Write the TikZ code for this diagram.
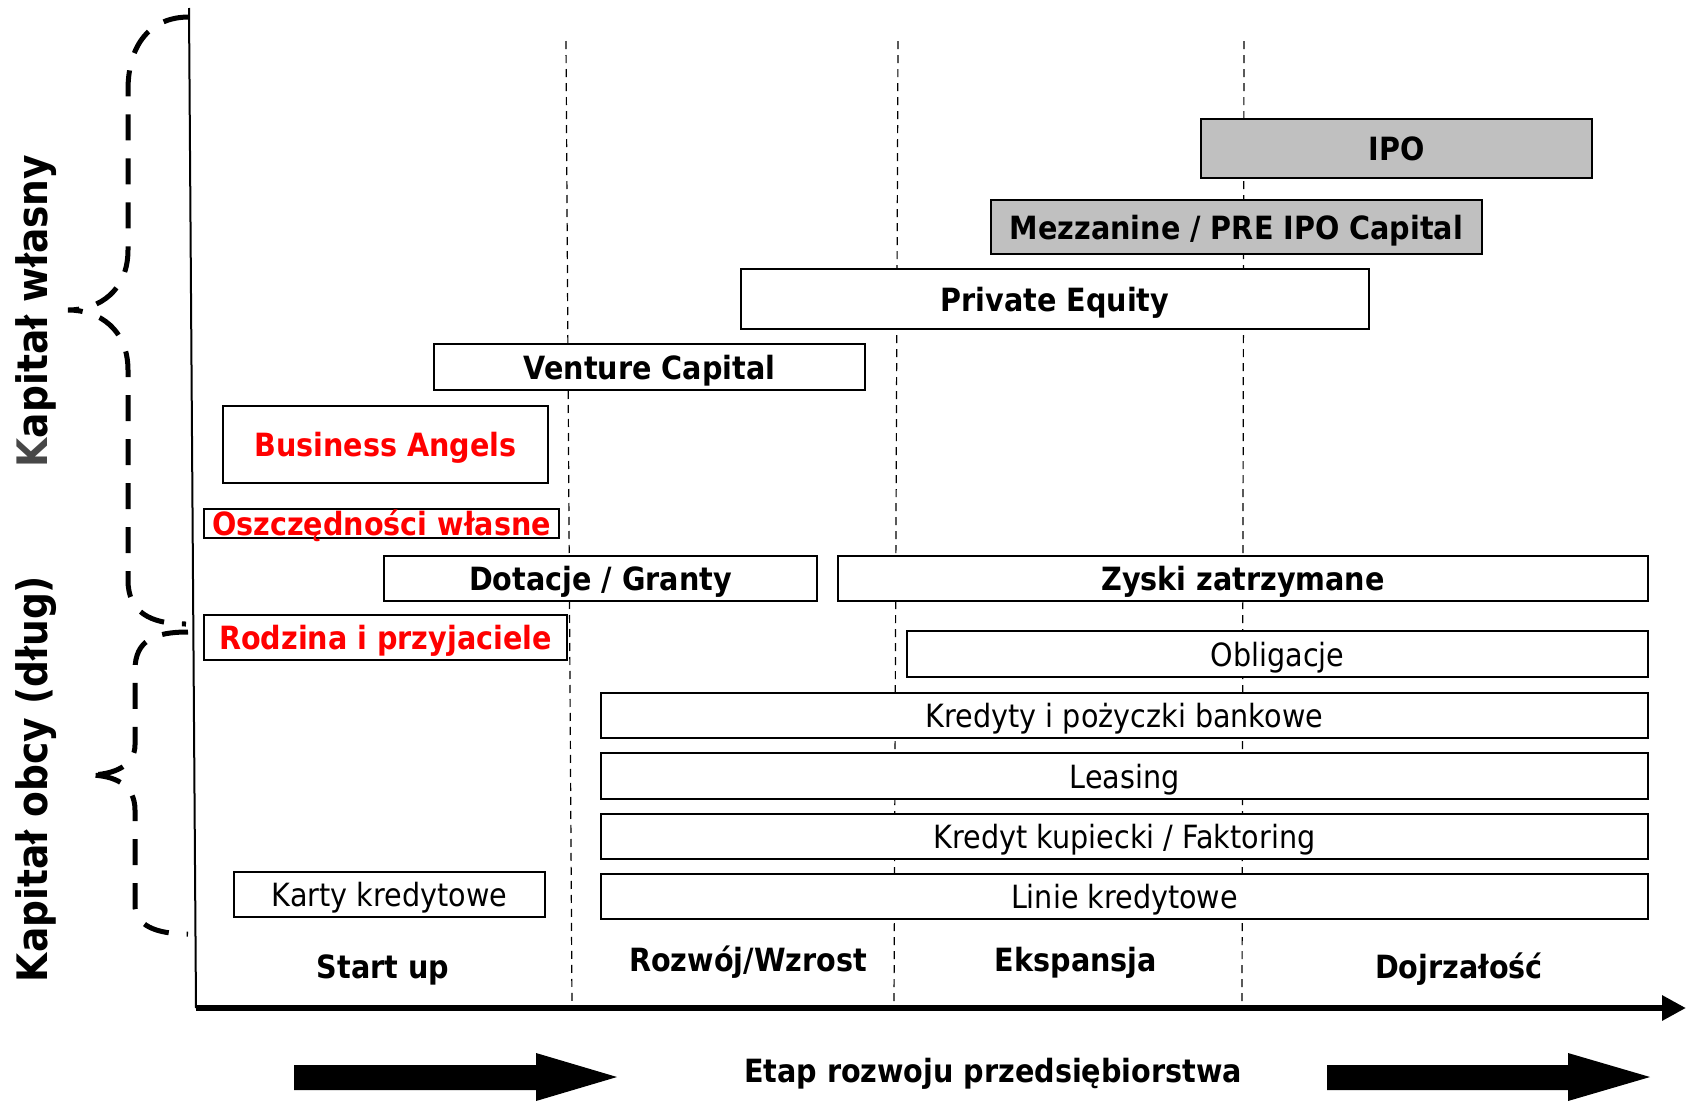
\documentclass[tikz,border=0pt]{standalone}
\usepackage{fontspec}
\setmainfont{DejaVu Sans}[FakeStretch=0.895]
\usetikzlibrary{arrows.meta}

\definecolor{ipogray}{RGB}{192,192,192}
\definecolor{ownred}{RGB}{255,0,0}

\tikzset{
  fundbox/.style={draw, line width=1.6pt, fill=white, inner sep=0pt,
    text height=26pt, text depth=2pt,
    font=\bfseries\fontsize{32}{32}\selectfont},
  plainbox/.style={fundbox, font=\fontsize{32}{32}\selectfont},
  redbox/.style={fundbox, text=ownred},
  stage/.style={inner sep=0pt, text height=26pt, text depth=2pt,
    font=\bfseries\fontsize{32}{32}\selectfont},
  sidelabel/.style={rotate=90, inner sep=0pt,
    font=\bfseries\fontsize{42}{42}\selectfont},
  brace/.style={line width=5pt, dash pattern=on 26pt off 18pt},
  separator/.style={line width=1.2pt, dash pattern=on 8pt off 6pt}
}

\begin{document}
\begin{tikzpicture}[x=1pt,y=-1pt]
\useasboundingbox (0,0) rectangle (1692,1101);

% axes
\coordinate (ytop) at (189,8);
\coordinate (o) at (196,1008);
\coordinate (xend) at (1686,1008);

% stage separators
\foreach \xa/\xb in {566/572, 898/894, 1244/1242}
{
	\draw[separator] (\xa,41) -- (\xb,1006);
};

\draw[line width=2pt] (ytop) -- (o);
\draw[line width=6pt, -{Triangle[length=24pt,width=24pt]}] (o) -- (xend);

% equity side
\node[fundbox, fill=ipogray, minimum width=391pt, minimum height=59pt] (ipo) at (1396.5,148.5) {IPO};
\node[fundbox, fill=ipogray, minimum width=491pt, minimum height=54pt] (mezz) at (1236.5,227) {Mezzanine / PRE IPO Capital};
\node[fundbox, minimum width=628pt, minimum height=60pt] (pe) at (1055,299) {Private Equity};
\node[fundbox, minimum width=431pt, minimum height=46pt] (vc) at (649.5,367) {Venture Capital};
\node[redbox, minimum width=325pt, minimum height=77pt] (ba) at (385.5,444.5) {Business Angels};
\node[redbox, minimum width=355pt, minimum height=29pt] (osz) at (381.5,523.5) {Oszczędności własne};
\node[fundbox, minimum width=433pt, minimum height=45pt] (dot) at (600.5,578.5) {Dotacje / Granty};
\node[fundbox, minimum width=810pt, minimum height=45pt] (zyski) at (1243,578.5) {Zyski zatrzymane};
\node[redbox, minimum width=363pt, minimum height=45pt] (rodz) at (385.5,637.5) {Rodzina i przyjaciele};

% debt side
\node[plainbox, minimum width=741pt, minimum height=46pt] (oblig) at (1277.5,654) {Obligacje};
\node[plainbox, minimum width=1047pt, minimum height=45pt] (kred) at (1124.5,715.5) {Kredyty i pożyczki bankowe};
\node[plainbox, minimum width=1047pt, minimum height=46pt] (leas) at (1124.5,776) {Leasing};
\node[plainbox, minimum width=1047pt, minimum height=45pt] (kupiec) at (1124.5,836.5) {Kredyt kupiecki / Faktoring};
\node[plainbox, minimum width=1047pt, minimum height=45pt] (linie) at (1124.5,896.5) {Linie kredytowe};
\node[plainbox, minimum width=311pt, minimum height=45pt] (karty) at (389.5,894.5) {Karty kredytowe};

% stages
\node[stage] (startup) at (383,966) {Start up};
\node[stage] (rozwoj) at (748,959) {Rozwój/Wzrost};
\node[stage] (ekspansja) at (1076,959) {Ekspansja};
\node[stage] (dojrz) at (1459,966) {Dojrzałość};
\node[stage] (etap) at (993,1070) {Etap rozwoju przedsiębiorstwa};

\foreach \xa/\xb/\xc in {294/536/617, 1327/1568/1650}
{
	\fill (\xa,1065) -- (\xb,1065) -- (\xb,1053) -- (\xc,1077) -- (\xb,1101)
		-- (\xb,1090) -- (\xa,1090) -- cycle;
};

% braces
\draw[brace] (189,17) .. controls (150,17) and (128,45) .. (128,90) -- (128,250)
	.. controls (128,290) and (100,310) .. (68,310)
	.. controls (100,310) and (128,330) .. (128,370) -- (128,580)
	.. controls (128,612) and (150,624) .. (186,624);
\draw[brace] (188,632) .. controls (155,632) and (135,640) .. (135,670) -- (135,745)
	.. controls (135,765) and (115,775) .. (88,775)
	.. controls (115,775) and (135,785) .. (135,810) -- (135,905)
	.. controls (135,925) and (155,934) .. (188,934);

\node[sidelabel] (wlasny) at (36,311) {{\color{black!72}K}apitał własny};
\node[sidelabel] (obcy) at (36,779) {Kapitał obcy (dług)};

\end{tikzpicture}
\end{document}
